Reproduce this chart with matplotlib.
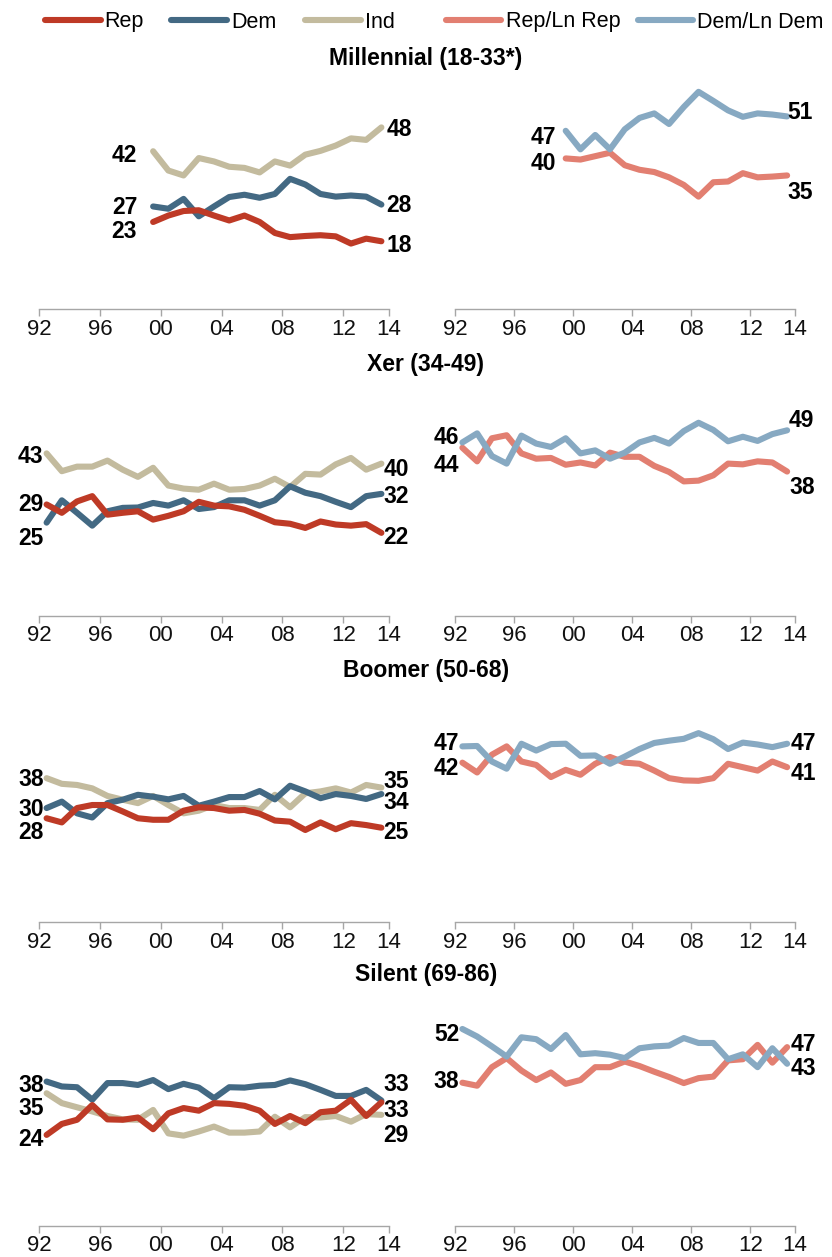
import matplotlib
matplotlib.use("Agg")
import matplotlib.pyplot as plt
from matplotlib.lines import Line2D

plt.rcParams['font.family'] = ['Liberation Sans', 'DejaVu Sans']

# ---------------- data ----------------
years = list(range(1992, 2015))          # 23 yearly points
mil_years = list(range(1999, 2015))      # Millennials start in 1999

series_names = ["Rep", "Dem", "Ind", "Rep/Ln Rep", "Dem/Ln Dem"]
colors = {"Rep": "#BE3A26", "Dem": "#436983", "Ind": "#C3BB9E",
          "Rep/Ln Rep": "#E27F71", "Dem/Ln Dem": "#87A9C2"}

mil_rep = [23.0, 24.7, 25.9, 26.1, 24.7, 23.4, 24.7, 23.0, 20.1, 19.0, 19.3, 19.5, 19.2, 17.3, 18.6, 17.9]
mil_dem = [27.1, 26.5, 29.1, 24.5, 27.1, 29.6, 30.2, 29.4, 30.4, 34.4, 32.9, 30.4, 29.7, 30.0, 29.7, 27.6]
mil_ind = [41.7, 36.6, 35.3, 39.9, 39.0, 37.6, 37.3, 36.1, 39.0, 37.9, 40.8, 41.8, 43.2, 45.1, 44.7, 48.0]
mil_replean = [39.8, 39.5, 40.4, 41.3, 38.0, 36.8, 36.2, 34.8, 32.8, 29.7, 33.5, 33.7, 35.9, 34.8, 35.0, 35.3]
mil_demlean = [47.1, 42.2, 46.0, 42.2, 47.5, 50.5, 51.7, 48.9, 53.4, 57.4, 55.0, 52.5, 50.8, 51.7, 51.4, 50.9]

xer_rep = [29.4, 27.2, 30.2, 31.6, 26.7, 27.2, 27.6, 25.4, 26.4, 27.6, 30.1, 29.1, 28.9, 28.0, 26.4, 24.7, 24.3, 23.2, 24.9, 24.1, 23.8, 24.2, 21.9]
xer_dem = [24.6, 30.5, 27.2, 23.8, 27.6, 28.5, 28.6, 29.8, 29.1, 30.5, 28.2, 28.7, 30.5, 30.5, 29.1, 30.5, 34.2, 32.5, 31.6, 30.1, 28.7, 31.6, 32.2]
xer_ind = [42.9, 38.2, 39.4, 39.4, 41.0, 38.6, 36.7, 39.1, 34.4, 33.6, 33.3, 34.9, 33.3, 33.5, 34.4, 36.2, 34.0, 37.5, 37.3, 40.0, 41.7, 38.6, 40.2]
xer_replean = [44.4, 40.8, 46.9, 47.7, 42.9, 41.5, 41.7, 39.9, 40.5, 39.7, 43.1, 42.0, 42.0, 39.6, 38.0, 35.5, 35.7, 37.1, 40.2, 40.0, 40.8, 40.5, 38.1]
xer_demlean = [45.8, 48.2, 42.2, 40.2, 47.6, 45.5, 44.6, 46.9, 42.9, 43.7, 41.5, 43.1, 45.8, 47.0, 45.5, 48.8, 51.0, 49.1, 46.1, 47.3, 46.2, 48.0, 49.0]

boom_rep = [27.5, 26.4, 30.2, 31.0, 31.0, 29.3, 27.5, 27.1, 27.1, 29.5, 30.4, 30.2, 29.5, 29.7, 28.7, 26.9, 26.6, 24.4, 26.4, 24.6, 26.2, 25.7, 25.0]
boom_dem = [30.2, 31.9, 28.8, 27.7, 31.5, 32.4, 33.7, 33.2, 32.5, 33.4, 30.8, 31.9, 33.1, 33.1, 34.7, 32.5, 36.1, 34.6, 32.8, 33.9, 33.4, 32.6, 33.9]
boom_ind = [38.1, 36.6, 36.3, 35.4, 33.4, 32.4, 31.5, 33.4, 31.0, 28.8, 29.5, 31.0, 30.2, 30.2, 29.7, 33.7, 30.4, 34.1, 34.6, 35.4, 34.3, 36.3, 35.6]
boom_replean = [42.2, 39.6, 44.3, 46.5, 42.5, 41.6, 38.4, 40.3, 39.0, 41.9, 43.7, 42.2, 41.9, 40.1, 38.1, 37.5, 37.4, 38.1, 41.9, 41.0, 40.1, 42.5, 41.0]
boom_demlean = [46.5, 46.6, 42.5, 40.6, 47.2, 45.4, 47.1, 47.2, 44.0, 44.1, 41.9, 43.8, 45.8, 47.4, 48.0, 48.5, 50.0, 48.4, 45.8, 47.5, 47.0, 46.3, 47.2]

sil_rep = [24.0, 26.9, 28.0, 31.9, 28.1, 28.0, 28.6, 25.5, 29.7, 31.1, 30.4, 32.4, 32.2, 31.7, 30.4, 26.9, 29.0, 27.1, 30.0, 30.4, 33.3, 29.0, 32.6]
sil_dem = [38.1, 36.8, 36.6, 33.3, 37.7, 37.7, 37.2, 38.5, 36.1, 37.5, 36.5, 33.7, 36.6, 36.5, 37.0, 37.2, 38.4, 37.4, 35.9, 34.3, 34.3, 35.9, 33.1]
sil_ind = [35.0, 32.4, 31.3, 30.2, 29.0, 28.1, 28.0, 30.6, 24.4, 23.8, 24.9, 26.2, 24.6, 24.6, 24.9, 28.8, 26.0, 28.7, 28.6, 29.0, 27.5, 29.5, 29.3]
sil_replean = [37.8, 37.0, 41.9, 44.3, 41.0, 38.5, 40.5, 37.5, 38.5, 41.9, 41.9, 43.4, 42.2, 40.7, 39.3, 37.7, 39.0, 39.4, 43.7, 44.0, 47.8, 43.1, 47.2]
sil_demlean = [52.0, 50.0, 47.4, 44.7, 49.8, 49.3, 46.7, 50.4, 45.3, 45.6, 45.2, 44.3, 46.9, 47.4, 47.6, 49.6, 48.3, 48.3, 44.0, 45.3, 41.9, 46.9, 42.8]

generations = ["Millennial (18-33*)", "Xer (34-49)", "Boomer (50-68)", "Silent (69-86)"]

tick_years = [1992, 1996, 2000, 2004, 2008, 2012, 2015]
tick_labels = ["92", "96", "00", "04", "08", "12", "14"]

# end labels: (text, label y in data units)
labels = {
    (0, 0): ([("42", 41.3), ("27", 27.4), ("23", 21.2)], [("48", 48.0), ("28", 28.0), ("18", 17.5)]),
    (0, 1): ([("47", 46.0), ("40", 39.0)], [("51", 52.6), ("35", 31.5)]),
    (1, 0): ([("43", 42.8), ("29", 30.0), ("25", 21.0)], [("40", 39.3), ("32", 32.2), ("22", 21.3)]),
    (1, 1): ([("46", 47.8), ("44", 40.4)], [("49", 52.3), ("38", 34.6)]),
    (2, 0): ([("38", 38.4), ("30", 30.4), ("28", 24.5)], [("35", 38.0), ("34", 32.2), ("25", 24.5)]),
    (2, 1): ([("47", 47.9), ("42", 41.4)], [("47", 47.9), ("41", 40.1)]),
    (3, 0): ([("38", 37.6), ("35", 31.6), ("24", 23.5)], [("33", 37.9), ("33", 31.2), ("29", 24.4)]),
    (3, 1): ([("52", 51.3), ("38", 38.8)], [("47", 48.6), ("43", 42.3)]),
}
start_gap = {(0, 0): 16, (0, 1): 10}
end_gap = {(0, 0): 5, (0, 1): 0, (2, 1): 4, (3, 1): 4}

panels = [
    (mil_years, [("Ind", mil_ind), ("Dem", mil_dem), ("Rep", mil_rep)],
     [("Rep/Ln Rep", mil_replean), ("Dem/Ln Dem", mil_demlean)]),
    (years, [("Ind", xer_ind), ("Dem", xer_dem), ("Rep", xer_rep)],
     [("Rep/Ln Rep", xer_replean), ("Dem/Ln Dem", xer_demlean)]),
    (years, [("Ind", boom_ind), ("Dem", boom_dem), ("Rep", boom_rep)],
     [("Rep/Ln Rep", boom_replean), ("Dem/Ln Dem", boom_demlean)]),
    (years, [("Ind", sil_ind), ("Dem", sil_dem), ("Rep", sil_rep)],
     [("Rep/Ln Rep", sil_replean), ("Dem/Ln Dem", sil_demlean)]),
]

# ---------------- layout ----------------
W, H = 832, 1257
fig = plt.figure(figsize=(W / 100, H / 100), dpi=100)
fig.patch.set_facecolor("white")

axis_y_px = [309, 615.7, 922.3, 1225.7]
title_y_px = [58, 365, 671, 975]
col_x = [(39, 350), (455, 339.5)]
ax_h = 227
LW = 4.4

for r, (yrs, left_series, right_series) in enumerate(panels):
    for c, series in enumerate([left_series, right_series]):
        x0, w = col_x[c]
        ax = fig.add_axes([x0 / W, 1 - axis_y_px[r] / H, w / W, ax_h / H])
        xs = [y + 0.5 for y in yrs]
        for name, vals in series:
            ax.plot(xs, vals, color=colors[name], lw=LW, solid_capstyle="round",
                    solid_joinstyle="round", clip_on=False)
        ax.set_xlim(1992, 2015)
        ax.set_ylim(0, 60)
        for s in ["left", "right", "top"]:
            ax.spines[s].set_visible(False)
        ax.spines["bottom"].set_color("#a6a6a6")
        ax.spines["bottom"].set_linewidth(1.0)
        ax.set_yticks([])
        ax.set_xticks(tick_years)
        ax.set_xticklabels(tick_labels)
        ax.tick_params(axis="x", length=5, width=1.0, color="#a6a6a6", pad=2,
                       labelsize=16, labelcolor="#111111")
        ax.patch.set_alpha(0)

        starts, ends = labels[(r, c)]
        sg = start_gap.get((r, c), 3)
        eg = end_gap.get((r, c), 2)
        for txt, yv in starts:
            ax.annotate(txt, xy=(xs[0], yv), xytext=(-sg, 0), textcoords="offset pixels",
                        ha="right", va="center_baseline", fontsize=16.5, fontweight="bold",
                        color="black", annotation_clip=False)
        for txt, yv in ends:
            ax.annotate(txt, xy=(xs[-1], yv), xytext=(eg, 0), textcoords="offset pixels",
                        ha="left", va="center_baseline", fontsize=16.5, fontweight="bold",
                        color="black", annotation_clip=False)

    fig.text(426 / W, 1 - title_y_px[r] / H, generations[r], ha="center", va="center",
             fontsize=16.5, fontweight="bold", color="black")

# ---------------- legend ----------------
leg_line_x = [(45, 101), (171, 227), (305, 361), (446, 501), (638, 693)]
leg_text_x = [104, 231, 365, 506, 697]
for name, (lx0, lx1), tx in zip(series_names, leg_line_x, leg_text_x):
    fig.add_artist(Line2D([lx0 / W, lx1 / W], [1 - 20 / H, 1 - 20 / H],
                          transform=fig.transFigure, color=colors[name], lw=LW,
                          solid_capstyle="round"))
    fig.text(tx / W, 1 - 27.5 / H, name, ha="left", va="baseline", fontsize=15.5,
             color="black")

fig.savefig("out.png", dpi=100, facecolor="white")
